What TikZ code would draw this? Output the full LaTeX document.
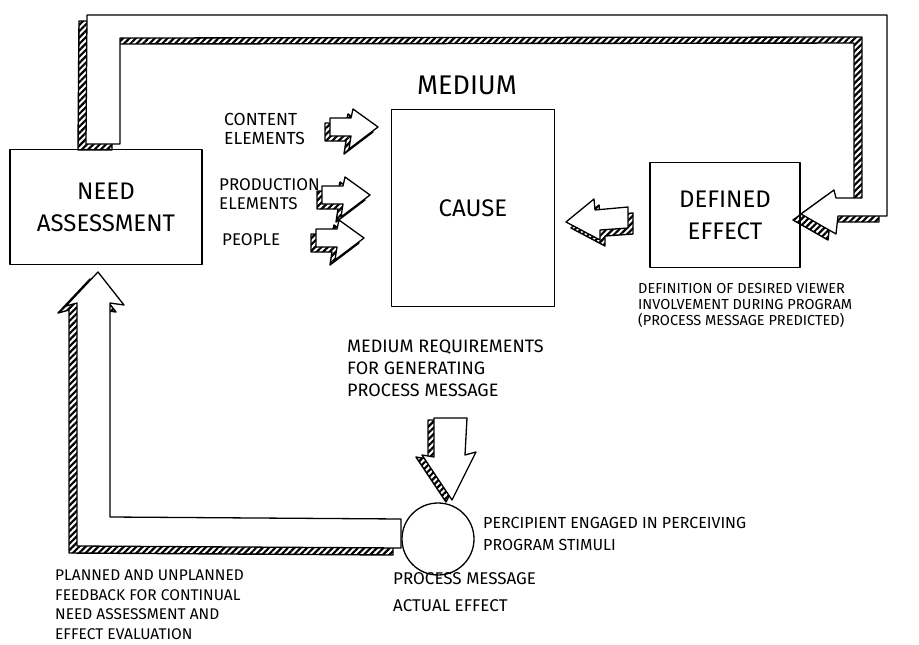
\documentclass[tikz,border=0pt]{standalone}
\usepackage{fontspec}
\setmainfont{Fira Sans}
\usetikzlibrary{positioning, patterns.meta}

\newcommand\hatched[2]{%
  \filldraw[hatch, shift={#1}] #2;
  \filldraw[face] #2;}

\tikzset{
  hatch/.style={draw, line width=1.4pt, pattern={Lines[angle=45,distance=4.5pt,line width=2.2pt]}},
  face/.style={draw, fill=white, line width=1.3pt},
  box/.style={draw, line width=1.3pt, rectangle, align=center, inner sep=2pt,
    font=\fontsize{24}{32}\selectfont},
  note/.style={anchor=north west, align=left, inner sep=0pt},
  pics/fatarrow/.style={code={
    \hatched{(-5,5)}{(-48,-9) -- (-27,-9) -- (-25,-18) -- (0,0) -- (-29,22) -- (-27,9) -- (-48,9) -- cycle}
  }}
}

\begin{document}
\begin{tikzpicture}[x=1pt, y=-1pt, line join=round]
  \useasboundingbox (0,0) rectangle (919,645);

  % boxes
  \node[box, minimum width=192pt, minimum height=115pt] (need) at (106,207) {NEED\\ASSESSMENT};
  \node[box, minimum width=163pt, minimum height=197pt] (cause) at (473,208) {CAUSE};
  \node[box, minimum width=150pt, minimum height=105pt] (effect) at (725,215) {DEFINED\\EFFECT};
  \node[draw, line width=1.3pt, circle, minimum size=72pt] (viewer) at (438,539) {};
  \node[font=\fontsize{27}{30}\selectfont] (medium) at (467,85) {MEDIUM};

  % feedback from need assessment to defined effect
  \hatched{(-8,6)}{(86,144) -- (87,15) -- (887,15) -- (887,216) -- (838,216) -- (836,234)
    -- (801,214) -- (834,190) -- (836,198) -- (862,198) -- (862,37) -- (120,38) -- (120,144) -- cycle}

  % feedback from process message back to need assessment
  \hatched{(-8,7)}{(401,519) -- (110,517) -- (110,303) -- (124,305) -- (98,272) -- (66,306)
    -- (77,303) -- (77,546) -- (401,548) -- cycle}

  % inputs to the medium
  \pic at (378,127) {fatarrow};
  \pic at (370,195) {fatarrow};
  \pic at (364,238) {fatarrow};

  % defined effect to cause
  \hatched{(5,6)}{(566,222) -- (594,199) -- (595,210) -- (628,207) -- (628,228) -- (600,230)
    -- (600,240) -- cycle}

  % medium requirements down to the percipient
  \hatched{(-6,2)}{(434,418) -- (467,418) -- (465,455) -- (476,452) -- (452,500) -- (422,455)
    -- (434,457) -- cycle}

  % labels
  \node[note, font=\fontsize{17.5}{19}\selectfont] (content) at (224,113) {CONTENT\\ELEMENTS};
  \node[note, font=\fontsize{17}{19}\selectfont] (production) at (219,178) {PRODUCTION\\ELEMENTS};
  \node[note, font=\fontsize{17}{19}\selectfont] (people) at (222,233) {PEOPLE};
  \node[note, font=\fontsize{14.5}{16}\selectfont] (definition) at (638,283)
    {DEFINITION OF DESIRED VIEWER\\INVOLVEMENT DURING PROGRAM\\(PROCESS MESSAGE PREDICTED)};
  \node[note, font=\fontsize{18}{22}\selectfont] (requirements) at (347,340)
    {MEDIUM REQUIREMENTS\\FOR GENERATING\\PROCESS MESSAGE};
  \node[note, font=\fontsize{16}{22}\selectfont] (percipient) at (483,517)
    {PERCIPIENT ENGAGED IN PERCEIVING\\PROGRAM STIMULI};
  \node[note, font=\fontsize{17}{27}\selectfont] (process) at (393,572)
    {PROCESS MESSAGE\\ACTUAL EFFECT};
  \node[note, font=\fontsize{15.5}{19.5}\selectfont] (planned) at (55,570)
    {PLANNED AND UNPLANNED\\FEEDBACK FOR CONTINUAL\\NEED ASSESSMENT AND\\EFFECT EVALUATION};
\end{tikzpicture}
\end{document}
